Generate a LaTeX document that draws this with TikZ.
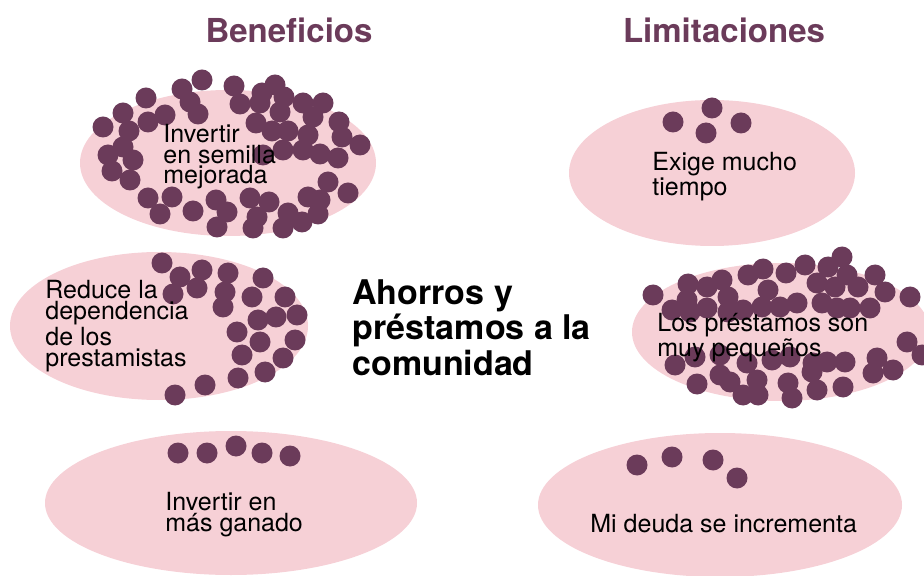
\documentclass[tikz,border=0pt]{standalone}
\usepackage{fontspec}
\setmainfont{TeX Gyre Heros}
\usetikzlibrary{shapes.geometric}
\definecolor{rosa}{RGB}{246,208,214}
\definecolor{ciruela}{RGB}{107,59,90}

\begin{document}
\begin{tikzpicture}[
    x=0.5pt, y=-0.5pt,
    bubble/.style={ellipse, fill=rosa, inner sep=0pt},
    dot/.style={fill=ciruela},
    label/.style={anchor=base west, align=left, inner sep=0pt, font=\fontsize{12.5}{10.4}\selectfont},
    title/.style={anchor=base, inner sep=0pt, text=ciruela, font=\fontsize{16.5}{18}\selectfont\bfseries}
]
\useasboundingbox (0,0) rectangle (924,576);

% burbujas
\node[bubble, minimum width=296pt/2, minimum height=146pt/2] (semilla) at (228,163) {};
\node[bubble, minimum width=298pt/2, minimum height=148pt/2] (dependencia) at (159,326) {};
\node[bubble, minimum width=372pt/2, minimum height=144pt/2] (ganado) at (231,503) {};
\node[bubble, minimum width=286pt/2, minimum height=146pt/2] (tiempo) at (712,173) {};
\node[bubble, minimum width=298pt/2, minimum height=138pt/2] (pequenos) at (781,332) {};
\node[bubble, minimum width=364pt/2, minimum height=144pt/2] (deuda) at (720,505) {};

% puntos
\foreach \x/\y in {202/80, 182/89, 234/86, 262/93, 275/85, 284/97, 146/98, 190/102,
    240/104, 260/103, 303/103, 323/103, 123/113, 165/115, 198/114, 280/112, 313/117,
    339/122, 103/127, 148/122, 129/131, 256/123, 272/131, 288/131, 308/135, 342/137,
    360/145, 123/147, 108/155, 133/160, 283/150, 303/150, 320/154, 338/158, 112/171,
    130/180, 263/155, 148/198, 172/197, 160/214, 193/211, 216/200, 227/212, 217/227,
    250/198, 269/202, 257/217, 253/228, 288/213, 283/228, 302/222, 308/197, 328/182,
    348/193, 320/200, 318/214}
    \fill[dot] (\x,\y) circle (5.25pt);
\foreach \x/\y in {162/263, 180/277, 202/270, 228/273, 263/278, 173/294, 197/288,
    225/292, 252/297, 285/297, 223/307, 258/320, 276/317, 297/315, 237/332, 260/342,
    295/340, 242/355, 283/358, 238/378, 265/372, 205/385, 175/395}
    \fill[dot] (\x,\y) circle (5.25pt);
\foreach \x/\y in {178/453, 207/453, 236/446, 262/453, 290/456}
    \fill[dot] (\x,\y) circle (5.25pt);
\foreach \x/\y in {673/122, 712/108, 706/133, 741/123}
    \fill[dot] (\x,\y) circle (5.25pt);
\foreach \x/\y in {842/257, 805/265, 828/267, 763/269, 748/275, 786/273, 847/275,
    875/275, 722/280, 688/284, 707/287, 817/283, 835/287, 858/287, 885/292, 768/290,
    653/295, 728/297, 687/300, 910/297, 672/310, 690/312, 707/308, 728/312, 743/310,
    762/307, 780/307, 797/303, 822/303, 837/308, 850/308, 870/308, 675/365, 695/357,
    720/355, 747/363, 772/360, 790/357, 813/363, 827/362, 845/362, 877/358, 907/342,
    922/355, 697/384, 720/375, 730/382, 757/380, 743/395, 758/395, 788/383, 792/398,
    812/372, 817/390, 843/387, 873/373, 893/370}
    \fill[dot] (\x,\y) circle (5.25pt);
\foreach \x/\y in {637/465, 672/457, 713/460, 737/478}
    \fill[dot] (\x,\y) circle (5.25pt);

% textos
\node[title] (beneficios) at (289,43) {Beneficios};
\node[title] (limitaciones) at (724,43) {Limitaciones};
\node[label, font=\fontsize{17}{17.75}\selectfont\bfseries] (centro) at (352,375)
    {Ahorros y\\préstamos a la\\comunidad};
\node[label] (t-semilla) at (163,184) {Invertir\\en semilla\\mejorada};
\node[label] (t-dependencia) at (45,366) {Reduce la\\dependencia\\de los\\prestamistas};
\node[label] (t-ganado) at (165,531) {Invertir en\\más ganado};
\node[label] (t-tiempo) at (652,196) {Exige mucho\\tiempo};
\node[label] (t-pequenos) at (657,357) {Los préstamos son\\muy pequeños};
\node[label] (t-deuda) at (590,532) {Mi deuda se incrementa};

\end{tikzpicture}
\end{document}
